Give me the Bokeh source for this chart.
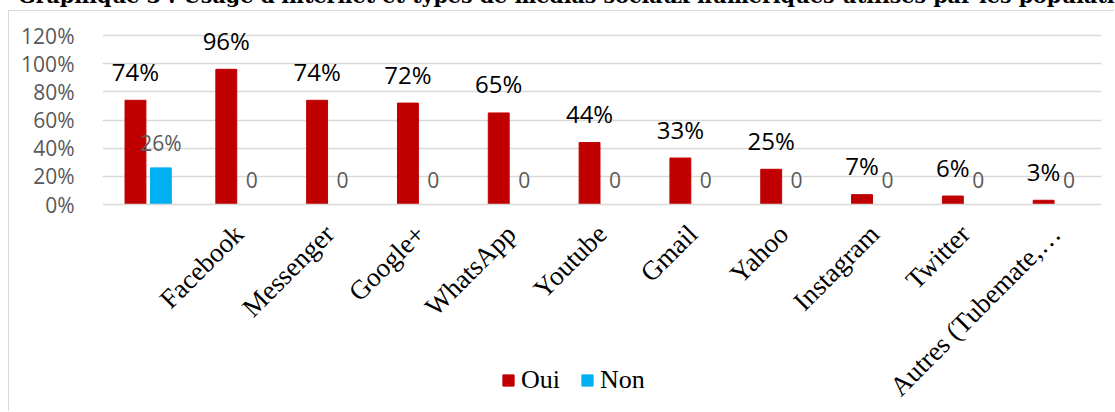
from bokeh.plotting import figure
from bokeh.layouts import column
from bokeh.models import (ColumnDataSource, FactorRange, Legend, LegendItem,
                          PrintfTickFormatter, FixedTicker, Range1d, Div)
from bokeh.transform import dodge
from bokeh.core.properties import value
from bokeh.embed import file_html
from bokeh.resources import INLINE

title_text = ("Graphique 3 : Usage d'internet et types de médias sociaux numériques "
              "utilisés par les populations")
categories = [" ", "Facebook", "Messenger", "Google+", "WhatsApp", "Youtube",
              "Gmail", "Yahoo", "Instagram", "Twitter", "Autres (Tubemate,…"]
oui = [74, 96, 74, 72, 65, 44, 33, 25, 7, 6, 3]
non = [26, 0, 0, 0, 0, 0, 0, 0, 0, 0, 0]
y_ticks = [0, 20, 40, 60, 80, 100, 120]
series_names = ["Oui", "Non"]

oui_labels = [f"{v}%" for v in oui]
non_labels = [f"{v}%" if v else "0" for v in non]

src = ColumnDataSource(dict(cat=categories, oui=oui, non=non,
                            oui_label=oui_labels, non_label=non_labels))

# --- title strip (only its lower part is visible, as in the reference) ---
title_div = Div(
    text=('<div style="position:relative; top:-14px; margin-left:18px; white-space:nowrap; '
          'font-family:\'DejaVu Serif\', serif; font-weight:bold; font-size:20.6px; '
          'line-height:20px; color:black;">' + title_text + '</div>'),
    width=1115, height=10,
    styles={"overflow": "hidden", "margin": "0", "padding": "0"})

# --- main chart ---
px_per_unit = 169 / 120
p = figure(width=1106, height=401, output_backend="svg", toolbar_location=None,
           x_range=FactorRange(*categories, range_padding=0, factor_padding=0),
           y_range=Range1d(-208 / px_per_unit, 120 + 24 / px_per_unit),
           min_border_left=93, min_border_right=14, min_border_top=0, min_border_bottom=0)
p.styles = {"margin-left": "8px", "border-left": "1px solid #D9D9D9",
            "border-top": "1px solid #D9D9D9"}
p.outline_line_color = None
p.background_fill_color = "white"
p.border_fill_color = "white"

r_oui = p.vbar(x=dodge("cat", -0.137, range=p.x_range), top="oui", bottom=0, width=0.23,
               source=src, fill_color="#C00000", line_color="#C00000")
r_non = p.vbar(x=dodge("cat", 0.143, range=p.x_range), top="non", bottom=0, width=0.23,
               source=src, fill_color="#00B0F0", line_color="#00B0F0")

p.text(x=dodge("cat", -0.137, range=p.x_range), y="oui", text="oui_label", source=src,
       text_align="center", text_baseline="middle", y_offset=-29,
       text_font=value("Open Sans"), text_font_size="24px", text_color="black")
p.text(x=dodge("cat", 0.143, range=p.x_range), y="non", text="non_label", source=src,
       text_align="center", text_baseline="middle", y_offset=-25,
       text_font=value("Open Sans"), text_font_size="21px", text_color="#595959")

p.xgrid.grid_line_color = None
p.ygrid.grid_line_color = "#D9D9D9"
p.ygrid.grid_line_width = 1.5
p.ygrid.ticker = FixedTicker(ticks=y_ticks[1:])
p.yaxis.ticker = FixedTicker(ticks=y_ticks)
p.yaxis.formatter = PrintfTickFormatter(format="%d%%")
p.yaxis.axis_line_color = None
p.yaxis.major_tick_line_color = None
p.yaxis.minor_tick_line_color = None
p.yaxis.major_label_standoff = 22
p.yaxis.major_label_text_font = "Open Sans"
p.yaxis.major_label_text_font_size = "21px"
p.yaxis.major_label_text_color = "#595959"

p.xaxis.fixed_location = 0
p.xaxis.axis_line_color = "#D9D9D9"
p.xaxis.axis_line_width = 1.5
p.xaxis.major_tick_line_color = None
p.xaxis.minor_tick_line_color = None
p.xaxis.major_label_orientation = 0.785398
p.xaxis.major_label_text_font = "Liberation Serif"
p.xaxis.major_label_text_font_size = "27px"
p.xaxis.major_label_text_color = "black"
p.xaxis.major_label_standoff = 19

legend = Legend(items=[LegendItem(label=series_names[0], renderers=[r_oui]),
                       LegendItem(label=series_names[1], renderers=[r_non])],
                location=(399, 17), orientation="horizontal",
                glyph_width=14, glyph_height=14, label_standoff=6, spacing=20,
                padding=0, margin=0, border_line_color=None, background_fill_alpha=0,
                label_text_font="'Liberation Serif', serif", label_text_font_size="26px",
                label_text_color="black", label_height=30)
p.add_layout(legend)

layout = column(title_div, p, spacing=0)
open("out.html", "w").write(file_html(layout, INLINE))
